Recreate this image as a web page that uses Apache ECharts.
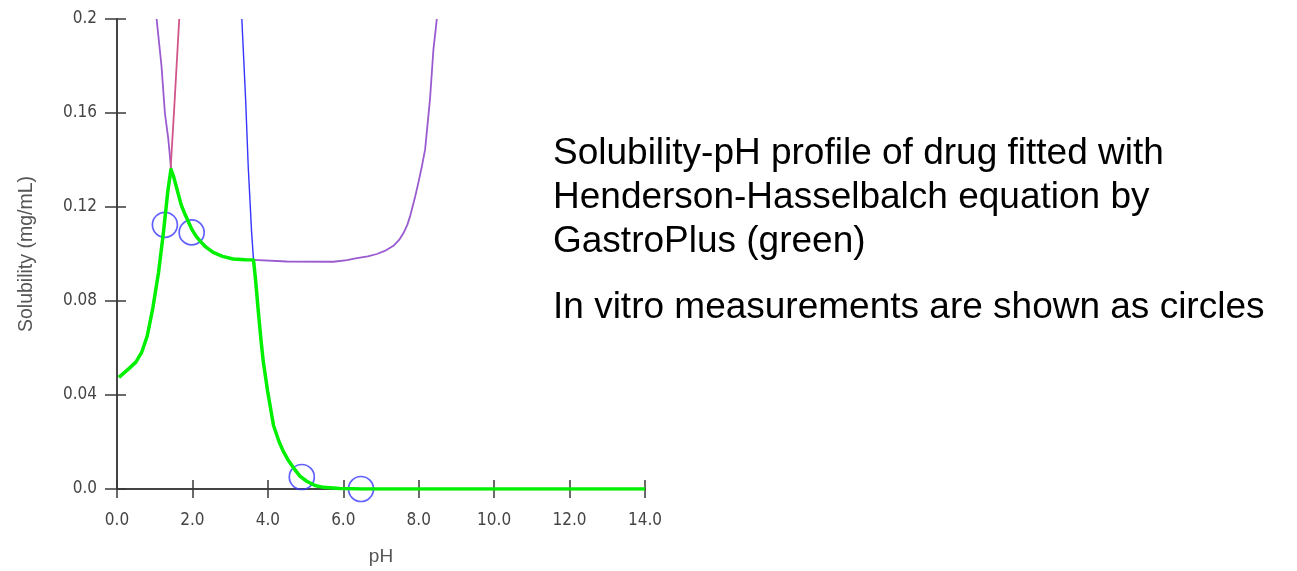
<!DOCTYPE html>
<html>
<head>
<meta charset="utf-8">
<script src="https://cdn.jsdelivr.net/npm/echarts@6/dist/echarts.min.js"></script>
<style>
html, body { margin: 0; padding: 0; background: #fff; }
#chart { width: 1297px; height: 571px; }
</style>
</head>
<body>
<div id="chart"></div>
<script>
// tick labels
const xTicks = [0, 2, 4, 6, 8, 10, 12, 14]
const yTicks = [0, 0.04, 0.08, 0.12, 0.16, 0.2]

// fitted Henderson-Hasselbalch curve (green), [pH, mg/mL]
const fitted = [
    [0.05, 0.0475], [0.3, 0.051], [0.5, 0.054], [0.65, 0.058], [0.8, 0.065],
    [0.95, 0.077], [1.1, 0.092], [1.23, 0.109], [1.35, 0.127], [1.43, 0.136],
    [1.5, 0.133], [1.6, 0.127], [1.7, 0.121], [1.8, 0.117], [1.9, 0.1135],
    [1.98, 0.1106], [2.1, 0.1075], [2.2, 0.1056], [2.35, 0.103], [2.55, 0.1007],
    [2.8, 0.099], [3.08, 0.0979], [3.4, 0.0976], [3.62, 0.0975], [3.68, 0.088],
    [3.75, 0.075], [3.82, 0.063], [3.88, 0.054], [4.0, 0.041], [4.15, 0.027],
    [4.3, 0.02], [4.41, 0.016], [4.55, 0.012], [4.68, 0.009], [4.85, 0.0055],
    [5.03, 0.0033], [5.25, 0.0015], [5.47, 0.0007], [5.9, 0.0002], [6.5, 0], [14, 0]
]

// intrinsic solubility curve (purple)
const intrinsic = [
    [1.05, 0.2], [1.18, 0.18], [1.27, 0.16], [1.36, 0.149], [1.43, 0.137],
    [1.5, 0.133], [1.6, 0.127], [1.7, 0.121], [1.8, 0.117], [1.98, 0.1106],
    [2.2, 0.1056], [2.55, 0.1007], [2.8, 0.099], [3.08, 0.0979], [3.4, 0.0976],
    [3.62, 0.0975], [4.5, 0.0968], [5.74, 0.0967], [6.1, 0.0974], [6.36, 0.0982],
    [6.65, 0.099], [6.89, 0.1], [7.1, 0.1013], [7.33, 0.1035], [7.48, 0.106],
    [7.6, 0.109], [7.7, 0.1125], [7.77, 0.116], [7.9, 0.124], [8.0, 0.131],
    [8.08, 0.137], [8.17, 0.1445], [8.3, 0.166], [8.39, 0.187], [8.48, 0.2]
]

// salt limits
const saltAcid = [[1.42, 0.136], [1.51, 0.16], [1.58, 0.18], [1.65, 0.2]]
const saltBase = [[3.31, 0.2], [3.41, 0.166], [3.48, 0.137], [3.57, 0.109], [3.62, 0.0975]]

// in vitro measurements
const measured = [[1.27, 0.1124], [1.98, 0.1092], [4.9, 0.0051], [6.47, 0]]

const notes = [
    'Solubility-pH profile of drug fitted with',
    'Henderson-Hasselbalch equation by',
    'GastroPlus (green)'
]
const note2 = 'In vitro measurements are shown as circles'

const chart = echarts.init(document.getElementById('chart'), null, {renderer: 'canvas'})

const tickFont = {
    fontFamily: '"DejaVu Sans Condensed", "Liberation Sans", sans-serif',
    fontSize: 17,
    color: '#444'
}
const axisColor = '#3a3a3a'

function yLabel(v) {
    if (Math.abs(v) < 1e-9) return '0.0'
    if (Math.abs(v - 0.2) < 1e-9) return '0.2'
    return v.toFixed(2)
}

const xBase = {
    type: 'value',
    min: xTicks[0],
    max: xTicks[xTicks.length - 1],
    interval: xTicks[1] - xTicks[0],
    splitLine: {show: false},
    axisLine: {onZero: false, lineStyle: {color: axisColor, width: 1.5}},
}
const yBase = {
    type: 'value',
    min: yTicks[0],
    max: yTicks[yTicks.length - 1],
    interval: 0.04,
    splitLine: {show: false},
    axisLine: {onZero: false, lineStyle: {color: axisColor, width: 1.5}},
}

const option = {
    animation: false,
    grid: {left: 117, top: 19, width: 528, height: 472},
    xAxis: [
        Object.assign({}, xBase, {
            name: 'pH',
            nameLocation: 'middle',
            nameGap: 58,
            nameTextStyle: {fontFamily: '"Liberation Sans", Arial, sans-serif', fontSize: 19, color: '#555'},
            axisTick: {length: 9, lineStyle: {color: axisColor, width: 1.5}},
            axisLabel: Object.assign({margin: 23, formatter: v => v.toFixed(1)}, tickFont)
        }),
        Object.assign({}, xBase, {
            position: 'bottom',
            axisTick: {inside: true, length: 9, lineStyle: {color: axisColor, width: 1.5}},
            axisLabel: {show: false}
        })
    ],
    yAxis: [
        Object.assign({}, yBase, {
            name: 'Solubility (mg/mL)',
            nameLocation: 'middle',
            nameGap: 80,
            nameTextStyle: {fontFamily: '"Liberation Sans", Arial, sans-serif', fontSize: 19.5, color: '#555'},
            axisTick: {length: 12, lineStyle: {color: axisColor, width: 1.5}},
            axisLabel: Object.assign({margin: 20, formatter: yLabel}, tickFont)
        }),
        Object.assign({}, yBase, {
            position: 'left',
            axisTick: {inside: true, length: 9, lineStyle: {color: axisColor, width: 1.5}},
            axisLabel: {show: false}
        })
    ],
    series: [
        {
            type: 'line', data: intrinsic, showSymbol: false, symbol: 'none',
            lineStyle: {color: '#9a5bd0', width: 1.8}
        },
        {
            type: 'line', data: saltAcid, showSymbol: false, symbol: 'none',
            lineStyle: {color: '#d2558a', width: 1.8}
        },
        {
            type: 'line', data: saltBase, showSymbol: false, symbol: 'none',
            lineStyle: {color: '#3535ff', width: 1.4}
        },
        {
            type: 'line', data: fitted, showSymbol: false, symbol: 'none',
            lineStyle: {color: '#00f000', width: 3.5, join: 'round'}
        },
        {
            type: 'scatter', data: measured, symbol: 'circle', symbolSize: 25,
            itemStyle: {color: 'rgba(0,0,0,0)', borderColor: '#3a3aff', borderWidth: 1.7}
        }
    ],
    graphic: notes.map((t, i) => ({
        type: 'text',
        left: 553,
        top: 135 + i * 44,
        style: {text: t, font: '37px "Liberation Sans", Arial, sans-serif', fill: '#000'}
    })).concat([{
        type: 'text',
        left: 553,
        top: 289,
        style: {text: note2, font: '37px "Liberation Sans", Arial, sans-serif', fill: '#000'}
    }])
}

chart.setOption(option)
</script>
</body>
</html>
